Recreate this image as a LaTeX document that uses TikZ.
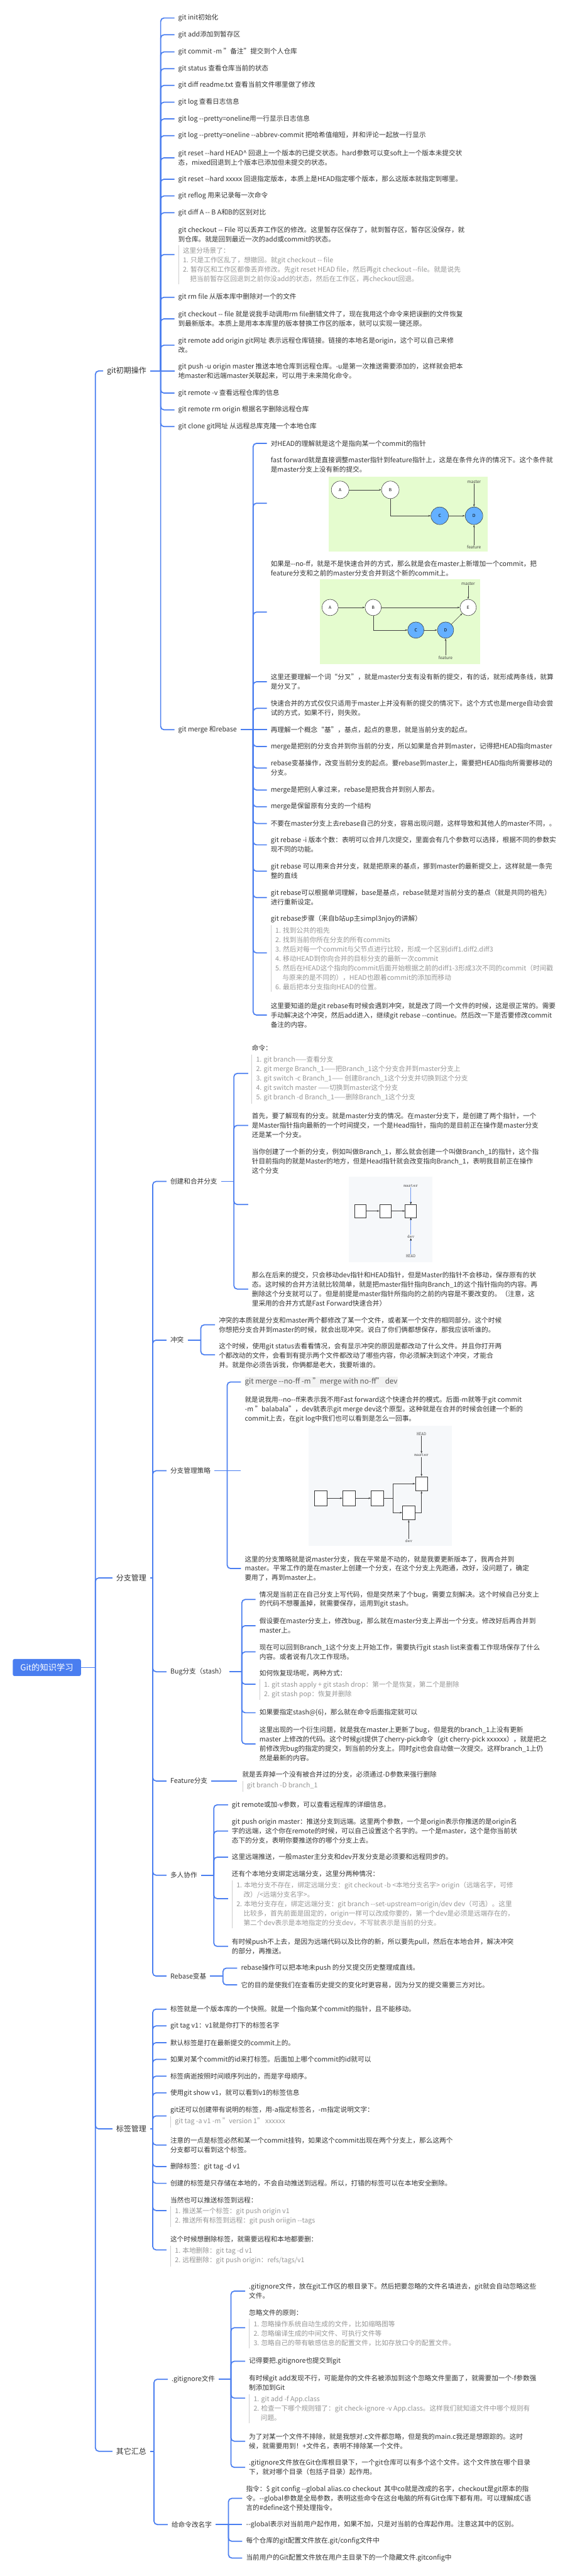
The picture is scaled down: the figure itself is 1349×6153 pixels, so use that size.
\documentclass[tikz,border=0pt]{standalone}
\usepackage{fontspec}
\setmainfont{Noto Sans CJK SC}
\usetikzlibrary{arrows.meta}
\definecolor{lb}{RGB}{74,126,240}
\definecolor{tcol}{RGB}{51,51,51}
\definecolor{ncol}{RGB}{150,150,150}
\definecolor{nbcol}{RGB}{205,205,205}
\definecolor{gbg}{RGB}{229,252,207}
\definecolor{cblue}{RGB}{100,176,255}
\definecolor{ibg}{RGB}{246,248,250}
\tikzset{
 txt/.style={anchor=west, inner sep=0pt, text=tcol, font=\fontsize{16}{22.5}\selectfont, align=left},
 ntxt/.style={txt, text=ncol},
 lone/.style={txt, font=\fontsize{18}{22}\selectfont},
 rootst/.style={fill=lb, text=white, rounded corners=4pt, font=\fontsize{20}{24}\selectfont, inner xsep=18pt, inner ysep=11pt},
 conn/.style={draw=lb, line width=2.6pt, rounded corners=8pt},
 nbarst/.style={draw=nbcol, line width=1.6pt},
 circw/.style={circle, draw=black!80, line width=0.8pt, fill=white, inner sep=0pt, font=\fontsize{10}{12}\selectfont},
 circb/.style={circw, fill=cblue},
 smlab/.style={inner sep=1pt, text=black!75, font=\fontsize{10}{12}\selectfont},
 mlab/.style={inner sep=1pt, text=black!75, font=\ttfamily\fontsize{11}{12}\selectfont},
 arr/.style={-{Stealth[length=6pt,width=4pt]}, draw=black!75, line width=0.8pt},
 barr/.style={-{Stealth[length=6pt,width=4pt,color=black]}, draw=lb!80, line width=0.8pt},
 sq/.style={draw=black!80, fill=white, line width=0.8pt, inner sep=0pt, minimum width=27pt, minimum height=31pt},
}
\newcommand\notebar[1]{\draw[nbarst] ([xshift=-10pt,yshift=4pt]#1.north west) -- ([xshift=-10pt,yshift=-5pt]#1.south west);}
\begin{document}
\begin{tikzpicture}[x=1pt,y=-1pt]
\useasboundingbox (0,0) rectangle (1349,6153);
\fill[white] (0,0) rectangle (1349,6153);

% ---------------- root and level 1
\node[rootst] (R) at (112,3983) {Git的知识学习};
\coordinate (Rj) at (228,3983);
\node[lone, anchor=east] (L1) at (350,886) {git初期操作};
\node[lone, anchor=east] (L2) at (350,3769) {分支管理};
\node[lone, anchor=east] (L3) at (350,5085) {标签管理};
\node[lone, anchor=east] (L4) at (350,5855) {其它汇总};
\draw[conn] (R.east) -- (Rj);
\foreach \n in {L1,L2,L3,L4} {\draw[conn] (Rj) |- ([xshift=-9pt]\n.west);}

% ---------------- group A : git初期操作
\coordinate (Aj) at (384,886);
\draw[conn] ([xshift=9pt]L1.east) -- (Aj);
\node[txt] (a1) at (426,43) {git init初始化};
\node[txt] (a2) at (426,83) {git add添加到暂存区};
\node[txt] (a3) at (426,124) {git commit -m "备注"提交到个人仓库};
\node[txt] (a4) at (426,164) {git status 查看仓库当前的状态};
\node[txt] (a5) at (426,204) {git diff readme.txt 查看当前文件哪里做了修改};
\node[txt] (a6) at (426,244) {git log 查看日志信息};
\node[txt] (a7) at (426,284) {git log -{}-pretty=oneline用一行显示日志信息};
\node[txt] (a8) at (426,324) {git log -{}-pretty=oneline -{}-abbrev-commit 把哈希值缩短，并和评论一起放一行显示};
\node[txt] (a9) at (426,377) {git reset -{}-hard HEAD\textasciicircum{} 回退上一个版本的已提交状态。hard参数可以变soft上一个版本未提交状\\态，mixed回退到上个版本已添加但未提交的状态。};
\node[txt] (a10) at (426,428) {git reset -{}-hard xxxxx 回退指定版本，本质上是HEAD指定哪个版本，那么这版本就指定到哪里。};
\node[txt] (a11) at (426,468) {git reflog 用来记录每一次命令};
\node[txt] (a12) at (426,508) {git diff A -{}- B A和B的区别对比};
\node[txt] (a13) at (426,559.5) {git checkout -{}- File 可以丢弃工作区的修改。这里暂存区保存了，就到暂存区，暂存区没保存，就\\到仓库。就是回到最近一次的add或commit的状态。};
\node[ntxt] (a13n) at (437,632) {这里分场景了：\\1. 只是工作区乱了，想撤回。就git checkout -{}- file\\2. 暂存区和工作区都像丢弃修改。先git reset HEAD file，然后再git checkout -{}-file。就是说先\\\hspace*{17pt}把当前暂存区回退到之前你没add的状态，然后在工作区，再checkout回退。};
\notebar{a13n}
\coordinate (a13c) at (417,608);
\node[txt] (a14) at (426,710) {git rm file 从版本库中删除对一个的文件};
\node[txt] (a15) at (426,761.5) {git checkout -{}- file 就是说我手动调用rm file删错文件了，现在我用这个命令来把误删的文件恢复\\到最新版本。本质上是用本本库里的版本替换工作区的版本，就可以实现一键还原。};
\node[txt] (a16) at (426,824.5) {git remote add origin git网址 表示远程仓库链接。链接的本地名是origin，这个可以自己来修\\改。};
\node[txt] (a17) at (426,886) {git push -u origin master 推送本地仓库到远程仓库。-u是第一次推送需要添加的，这样就会把本\\地master和远端master关联起来，可以用于未来简化命令。};
\node[txt] (a18) at (426,939) {git remote -v 查看远程仓库的信息};
\node[txt] (a19) at (426,979) {git remote rm origin 根据名字删除远程仓库};
\node[txt] (a20) at (426,1019) {git clone git网址 从远程总库克隆一个本地仓库};
\node[txt] (a21) at (426,1743) {git merge 和rebase};
\foreach \n in {a1,a2,a3,a4,a5,a6,a7,a8,a9,a10,a11,a12,a14,a15,a16,a18,a19,a20,a21} {\draw[conn] (Aj) |- ([xshift=-9pt]\n.west);}
\draw[conn] (Aj) |- (a13c);
\draw[conn] (Aj) -- ([xshift=-9pt]a17.west);

% ---------------- group B : merge & rebase
\coordinate (Bj) at (605,1743);
\draw[conn] ([xshift=9pt]a21.east) -- (Bj);
\node[txt] (b1) at (647,1059) {对HEAD的理解就是这个是指向某一个commit的指针};
\node[txt] (b2) at (647,1110.5) {fast forward就是直接调整master指针到feature指针上，这是在条件允许的情况下。这个条件就\\是master分支上没有新的提交。};
\coordinate (b2c) at (638,1202);
\node[txt] (b3) at (647,1358) {如果是-{}-no-ff，就是不是快速合并的方式，那么就是会在master上新增加一个commit，把\\feature分支和之前的master分支合并到这个新的commit上。};
\coordinate (b3c) at (638,1462);
\node[txt] (b4) at (647,1628.5) {这里还要理解一个词“分叉”，就是master分支有没有新的提交，有的话，就形成两条线，就算\\是分叉了。};
\node[txt] (b5) at (647,1692) {快速合并的方式仅仅只适用于master上并没有新的提交的情况下。这个方式也是merge自动会尝\\试的方式，如果不行，则失败。};
\node[txt] (b6) at (647,1743) {再理解一个概念“基”，基点，起点的意思，就是当前分支的起点。};
\node[txt] (b7) at (647,1783) {merge是把别的分支合并到你当前的分支，所以如果是合并到master，记得把HEAD指向master};
\node[txt] (b8) at (647,1834.5) {rebase变基操作，改变当前分支的起点。要rebase到master上，需要把HEAD指向所需要移动的\\分支。};
\node[txt] (b9) at (647,1887) {merge是把别人拿过来，rebase是把我合并到别人那去。};
\node[txt] (b10) at (647,1927) {merge是保留原有分支的一个结构};
\node[txt] (b11) at (647,1967) {不要在master分支上去rebase自己的分支，容易出现问题，这样导致和其他人的master不同，。};
\node[txt] (b12) at (647,2018) {git rebase -i 版本个数：表明可以合并几次提交，里面会有几个参数可以选择，根据不同的参数实\\现不同的功能。};
\node[txt] (b13) at (647,2081) {git rebase 可以用来合并分支，就是把原来的基点，挪到master的最新提交上，这样就是一条完\\整的直线};
\node[txt] (b14) at (647,2144) {git rebase可以根据单词理解，base是基点，rebase就是对当前分支的基点（就是共同的祖先）\\进行重新设定。};
\node[txt] (b15) at (647,2195) {git rebase步骤（来自b站up主simpl3njoy的讲解）};
\node[ntxt] (b15n) at (658,2289.5) {1. 找到公共的祖先\\2. 找到当前你所在分支的所有commits\\3. 然后对每一个commit与父节点进行比较，形成一个区别diff1.diff2.diff3\\4. 移动HEAD到你向合并的目标分支的最新一次commit\\5. 然后在HEAD这个指向的commit后面开始根据之前的diff1-3形成3次不同的commit（时间戳\\\hspace*{17pt}与原来的是不同的），HEAD也跟着commit的添加而移动\\6. 最后把本分支指向HEAD的位置。};
\notebar{b15n}
\coordinate (b15c) at (638,2276);
\node[txt] (b16) at (647,2424.5) {这里要知道的是git rebase有时候会遇到冲突，就是改了同一个文件的时候，这是很正常的。需要\\手动解决这个冲突，然后add进入，继续git rebase -{}-continue。然后改一下是否要修改commit\\备注的内容。};
\foreach \n in {b1,b4,b5,b7,b8,b9,b10,b11,b12,b13,b14,b16} {\draw[conn] (Bj) |- ([xshift=-9pt]\n.west);}
\foreach \n in {b2c,b3c,b15c} {\draw[conn] (Bj) |- (\n);}
\draw[conn] (Bj) -- ([xshift=-9pt]b6.west);

% image 1 (fast forward)
\fill[gbg] (786,1138) rectangle (1166,1317);
\node[circw, minimum size=42pt] (i1A) at (813,1170) {A};
\node[circw, minimum size=42pt] (i1B) at (933,1170) {B};
\node[circb, minimum size=42pt] (i1C) at (1051,1232) {C};
\node[circb, minimum size=42pt] (i1D) at (1133,1232) {D};
\node[smlab] (i1m) at (1133,1151) {master};
\node[smlab] (i1f) at (1133,1307) {feature};
\draw[arr] (i1A) -- (i1B);
\draw[arr] (i1B) |- (i1C);
\draw[arr] (i1C) -- (i1D);
\draw[arr] (i1m) -- (i1D);
\draw[arr] (i1f) -- (i1D);
% image 2 (no-ff)
\fill[gbg] (765,1384) rectangle (1147,1587);
\node[circw, minimum size=39pt] (i2A) at (789,1451) {A};
\node[circw, minimum size=39pt] (i2B) at (892,1451) {B};
\node[circw, minimum size=39pt] (i2E) at (1119,1451) {E};
\node[circb, minimum size=39pt] (i2C) at (994,1505) {C};
\node[circb, minimum size=39pt] (i2D) at (1065,1505) {D};
\node[smlab] (i2m) at (1119,1394) {master};
\node[smlab] (i2f) at (1065,1571) {feature};
\draw[arr] (i2A) -- (i2B);
\draw[arr] (i2B) -- (i2E);
\draw[arr] (i2B) |- (i2C);
\draw[arr] (i2C) -- (i2D);
\draw[arr] (i2D) -- (i2E);
\draw[arr] (i2m) -- (i2E);
\draw[arr] (i2f) -- (i2D);

% ---------------- group C : 分支管理
\coordinate (Cj) at (365,3769);
\draw[conn] ([xshift=9pt]L2.east) -- (Cj);
\node[txt] (C1) at (407,2822) {创建和合并分支};
\node[txt] (C2) at (407,3201) {冲突};
\node[txt] (C3) at (407,3513) {分支管理策略};
\node[txt] (C4) at (407,3993) {Bug分支（stash）};
\node[txt] (C5) at (407,4254) {Feature分支};
\node[txt] (C6) at (407,4479) {多人协作};
\node[txt] (C7) at (407,4720) {Rebase变基};
\foreach \n in {C1,C2,C3,C4,C5,C6,C7} {\draw[conn] (Cj) |- ([xshift=-9pt]\n.west);}

% C1 创建和合并分支
\coordinate (C1j) at (559,2822);
\draw[conn] ([xshift=9pt]C1.east) -- (C1j);
\node[txt] (c1) at (602,2504) {命令：};
\node[ntxt] (c1n) at (612,2577) {1. git branch——查看分支\\2. git merge Branch\_1——把Branch\_1这个分支合并到master分支上\\3. git switch -c Branch\_1—— 创建Branch\_1这个分支并切换到这个分支\\4. git switch master ——切换到master这个分支\\5. git branch -d Branch\_1——删除Branch\_1这个分支};
\notebar{c1n}
\coordinate (c1c) at (593,2564);
\node[txt] (c2) at (602,2688) {首先，要了解现有的分支。就是master分支的情况。在master分支下，是创建了两个指针，一个\\是Master指针指向最新的一个时间提交，一个是Head指针，指向的是目前正在操作是master分支\\还是某一个分支。};
\node[txt] (c3) at (602,2773.5) {当你创建了一个新的分支，例如叫做Branch\_1，那么就会创建一个叫做Branch\_1的指针，这个指\\针目前指向的就是Master的地方，但是Head指针就会改变指向Branch\_1，表明我目前正在操作\\这个分支};
\coordinate (c3c) at (593,2877);
\node[txt] (c4) at (602,3079) {那么在后来的提交，只会移动dev指针和HEAD指针，但是Master的指针不会移动，保存原有的状\\态。这时候的合并方法就比较简单，就是把master指针指向Branch\_1的这个指针指向的内容。再\\删除这个分支就可以了。但是前提是master指针所指向的之前的内容是不要改变的。（注意，这\\里采用的合并方式是Fast Forward快速合并）};
\draw[conn] (C1j) |- (c1c);
\draw[conn] (C1j) |- ([xshift=-9pt]c2.west);
\draw[conn] (C1j) |- (c3c);
\draw[conn] (C1j) |- ([xshift=-9pt]c4.west);
% image 3
\fill[ibg] (833,2811) rectangle (1034,3015);
\node[sq] (s1) at (861,2892.5) {};
\node[sq] (s2) at (921,2892.5) {};
\node[sq] (s3) at (982,2892.5) {};
\node[mlab] (s3m) at (982,2832) {master};
\node[mlab] (s3d) at (982,2953) {dev};
\node[mlab] (s3h) at (982,3000) {HEAD};
\draw[arr] (s1) -- (s2);
\draw[arr] (s2) -- (s3);
\draw[barr] (s3m) -- (s3);
\draw[barr] (s3d) -- (s3);
\draw[barr] (s3h) -- (s3d);

% C2 冲突
\coordinate (C2j) at (480,3201);
\draw[conn] ([xshift=9pt]C2.east) -- (C2j);
\node[txt] (d1) at (523,3164.5) {冲突的本质就是分支和master两个都修改了某一个文件，或者某一个文件的相同部分。这个时候\\你想把分支合并到master的时候，就会出现冲突。说白了你们俩都想保存，那我应该听谁的。};
\node[txt] (d2) at (523,3238.5) {这个时候，使用git status去看看情况，会有显示冲突的原因是都改动了什么文件。并且你打开两\\个都改动的文件，会看到有提示两个文件都改动了哪些内容，你必须解决到这个冲突，才能合\\并。就是你必须告诉我，你俩都是老大，我要听谁的。};
\coordinate (d2c) at (514,3236);
\draw[conn] (C2j) |- ([xshift=-9pt]d1.west);
\draw[conn] (C2j) |- (d2c);

% C3 分支管理策略
\coordinate (C3j) at (543,3513);
\draw[conn] ([xshift=9pt]C3.east) -- (C3j);
\node[txt, fill=black!5, text=black!65, font=\fontsize{17.5}{20}\selectfont, inner ysep=3pt, inner xsep=0pt] (e1) at (585,3301) {git merge -{}-no-ff -m "merge with no-ff" dev};
\node[txt] (e2) at (585,3367.5) {就是说我用-{}-no-{}-ff来表示我不用Fast forward这个快速合并的模式。后面-m就等于git commit\\-m "balabala"，dev就表示git merge dev这个原型。这种就是在合并的时候会创建一个新的\\commit上去，在git log中我们也可以看到是怎么一回事。};
\coordinate (e2c) at (576,3513);
\node[txt] (e3) at (585,3746.5) {这里的分支策略就是说master分支，我在平常是不动的，就是我要更新版本了，我再合并到\\master。平常工作的是在master上创建一个分支，在这个分支上先跑通，改好，没问题了，确定\\要用了，再到master上。};
\draw[conn] (C3j) |- ([xshift=-9pt]e1.west);
\draw[conn] (C3j) -- (e2c);
\draw[conn] (C3j) |- ([xshift=-9pt]e3.west);
% image 4
\fill[ibg] (737,3405) rectangle (1080,3693);
\node[sq, minimum width=30pt, minimum height=35pt] (r1) at (766,3578.5) {};
\node[sq, minimum width=30pt, minimum height=35pt] (r2) at (834,3578.5) {};
\node[sq, minimum width=30pt, minimum height=35pt] (r3) at (902,3578.5) {};
\node[sq, minimum width=29pt, minimum height=34pt] (rt) at (1007.5,3544) {};
\node[sq, minimum width=30pt, minimum height=34pt] (rl) at (977,3613) {};
\node[mlab] (r4h) at (1007.5,3425) {HEAD};
\node[mlab] (r4m) at (1007.5,3476) {master};
\node[mlab] (r4d) at (977,3681) {dev};
\coordinate (r3k) at (939,3578.5);
\draw[arr] (r1) -- (r2);
\draw[arr] (r2) -- (r3);
\draw[draw=black!75, line width=0.8pt] (r3.east) -- (r3k);
\draw[arr] (r3k) |- (rt.west);
\draw[arr] (r3k) |- (rl.west);
\draw[arr] (rl.east) -| (rt.south);
\draw[arr] (r4h) -- (r4m);
\draw[arr] (r4m) -- (rt);
\draw[arr] (r4d) -- (rl);

% C4 Bug分支
\coordinate (C4j) at (578,3993);
\draw[conn] ([xshift=9pt]C4.east) -- (C4j);
\node[txt] (f1) at (620,3820.5) {情况是当前正在自己分支上写代码，但是突然来了个bug，需要立刻解决。这个时候自己分支上\\的代码不想覆盖掉，就需要保存，运用到git stash。};
\node[txt] (f2) at (620,3883) {假设要在master分支上，修改bug，那么就在master分支上弄出一个分支。修改好后再合并到\\master上。};
\node[txt] (f3) at (620,3945.5) {现在可以回到Branch\_1这个分支上开始工作，需要执行git stash list来查看工作现场保存了什么\\内容。或者说有几次工作现场。};
\node[txt] (f4) at (620,3997) {如何恢复现场呢，两种方式：};
\node[ntxt] (f4n) at (631,4035.5) {1. git stash apply + git stash drop：第一个是恢复，第二个是删除\\2. git stash pop：恢复并删除};
\notebar{f4n}
\coordinate (f4c) at (611,4023);
\node[txt] (f5) at (620,4091) {如果要指定stash@\{6\}，那么就在命令后面指定就可以};
\node[txt] (f6) at (620,4165.5) {这里出现的一个衍生问题，就是我在master上更新了bug，但是我的branch\_1上没有更新\\master 上修改的代码。这个时候git提供了cherry-pick命令（git cherry-pick xxxxxx），就是把之\\前修改完bug的指定的提交，到当前的分支上。同时git也会自动做一次提交。这样branch\_1上仍\\然是最新的内容。};
\foreach \n in {f1,f2,f3,f5,f6} {\draw[conn] (C4j) |- ([xshift=-9pt]\n.west);}
\draw[conn] (C4j) |- (f4c);

% C5 Feature分支
\node[txt] (g1) at (579,4239) {就是丢弃掉一个没有被合并过的分支，必须通过-D参数来强行删除};
\node[ntxt] (g1n) at (590,4266) {git branch -D branch\_1};
\notebar{g1n}
\draw[conn] ([xshift=9pt]C5.east) -- (566,4254);

% C6 多人协作
\coordinate (C6j) at (511,4479);
\draw[conn] ([xshift=9pt]C6.east) -- (C6j);
\node[txt] (h1) at (554,4311) {git remote或加-v参数，可以查看远程库的详细信息。};
\node[txt] (h2) at (554,4373.5) {git push origin master：推送分支到远端。这里两个参数，一个是origin表示你推送的是origin名\\字的远端，这个你在remote的时候，可以自己设置这个名字的。一个是master，这个是你当前状\\态下的分支，表明你要推送你的哪个分支上去。};
\node[txt] (h3) at (554,4436) {这里远端推送，一般master主分支和dev开发分支是必须要和远程同步的。};
\node[txt] (h4) at (554,4476) {还有个本地分支绑定远端分支，这里分两种情况：};
\node[ntxt] (h4n) at (565,4548) {1. 本地分支不存在，绑定远端分支：git checkout -b <本地分支名字> origin（远端名字，可修\\\hspace*{17pt}改）/<远端分支名字>。\\2. 本地分支存在，绑定远端分支：git branch -{}-set-upstream=origin/dev dev（可选）。这里\\\hspace*{17pt}比较多，首先前面是固定的，origin一样可以改成你要的，第一个dev是必须是远端存在的，\\\hspace*{17pt}第二个dev表示是本地指定的分支dev，不写就表示是当前的分支。};
\notebar{h4n}
\coordinate (h4c) at (545,4535);
\node[txt] (h5) at (554,4649) {有时候push不上去，是因为远端代码以及比你的新，所以要先pull，然后在本地合并，解决冲突\\的部分，再推送。};
\foreach \n in {h1,h2,h3,h5} {\draw[conn] (C6j) |- ([xshift=-9pt]\n.west);}
\draw[conn] (C6j) |- (h4c);

% C7 Rebase变基
\coordinate (C7j) at (533,4720);
\draw[conn] ([xshift=9pt]C7.east) -- (C7j);
\node[txt] (i1) at (576,4701) {rebase操作可以把本地未push 的分叉提交历史整理成直线。};
\node[txt] (i2) at (576,4741) {它的目的是使我们在查看历史提交的变化时更容易，因为分叉的提交需要三方对比。};
\draw[conn] (C7j) |- ([xshift=-9pt]i1.west);
\draw[conn] (C7j) |- ([xshift=-9pt]i2.west);

% ---------------- group D : 标签
\coordinate (Dj) at (365,5085);
\draw[conn] ([xshift=9pt]L3.east) -- (Dj);
\node[txt] (j1) at (407,4799) {标签就是一个版本库的一个快照。就是一个指向某个commit的指针，且不能移动。};
\node[txt] (j2) at (407,4839) {git tag v1：v1就是你打下的标签名字};
\node[txt] (j3) at (407,4879) {默认标签是打在最新提交的commit上的。};
\node[txt] (j4) at (407,4919) {如果对某个commit的id来打标签。后面加上哪个commit的id就可以};
\node[txt] (j5) at (407,4959) {标签病逝按照时间顺序列出的，而是字母顺序。};
\node[txt] (j6) at (407,4999) {使用git show v1，就可以看到v1的标签信息};
\node[txt] (j7) at (407,5040) {git还可以创建带有说明的标签，用-a指定标签名，-m指定说明文字：};
\node[ntxt] (j7n) at (418,5068) {git tag -a v1 -m "version 1" xxxxxx};
\notebar{j7n}
\coordinate (j7c) at (398,5054);
\node[txt] (j8) at (407,5123.5) {注意的一点是标签必然和某一个commit挂钩，如果这个commit出现在两个分支上，那么这两个\\分支都可以看到这个标签。};
\node[txt] (j9) at (407,5175) {删除标签：git tag -d v1};
\node[txt] (j10) at (407,5215) {创建的标签是只存储在本地的，不会自动推送到远程。所以，打错的标签可以在本地安全删除。};
\node[txt] (j11) at (407,5255) {当然也可以推送标签到远程：};
\node[ntxt] (j11n) at (418,5293.5) {1. 推送某一个标签：git push origin v1\\2. 推送所有标签到远程：git push oriigin -{}-tags};
\notebar{j11n}
\coordinate (j11c) at (398,5280);
\node[txt] (j12) at (407,5349) {这个时候想删除标签，就需要远程和本地都要删：};
\node[ntxt] (j12n) at (418,5388) {1. 本地删除：git tag -d v1\\2. 远程删除：git push origin：refs/tags/v1};
\notebar{j12n}
\coordinate (j12c) at (398,5374);
\foreach \n in {j1,j2,j3,j4,j5,j6,j8,j9,j10} {\draw[conn] (Dj) |- ([xshift=-9pt]\n.west);}
\foreach \n in {j7c,j11c,j12c} {\draw[conn] (Dj) |- (\n);}

% ---------------- group E : 其它
\coordinate (Ej) at (368,5855);
\draw[conn] ([xshift=9pt]L4.east) -- (Ej);
\node[txt] (E1) at (410,5683) {.gitignore文件};
\node[txt] (E2) at (410,6030) {给命令改名字};
\draw[conn] (Ej) |- ([xshift=-9pt]E1.west);
\draw[conn] (Ej) |- ([xshift=-9pt]E2.west);

\coordinate (E1j) at (552,5683);
\draw[conn] ([xshift=9pt]E1.east) -- (E1j);
\node[txt] (k1) at (595,5472.5) {.gitignore文件，放在git工作区的根目录下。然后把要忽略的文件名填进去，git就会自动忽略这些\\文件。};
\node[txt] (k2) at (595,5524) {忽略文件的原则：};
\node[ntxt] (k2n) at (606,5573.5) {1. 忽略操作系统自动生成的文件，比如缩略图等\\2. 忽略编译生成的中间文件、可执行文件等\\3. 忽略自己的带有敏感信息的配置文件，比如存放口令的配置文件。};
\notebar{k2n}
\coordinate (k2c) at (586,5560);
\node[txt] (k3) at (595,5640) {记得要把.gitignore也提交到git};
\node[txt] (k4) at (595,5691.5) {有时候git add发现不行，可能是你的文件名被添加到这个忽略文件里面了，就需要加一个-f参数强\\制添加到Git};
\node[ntxt] (k4n) at (606,5752.5) {1. git add -f App.class\\2. 检查一下哪个规则错了：git check-ignore -v App.class。这样我们就知道文件中哪个规则有\\\hspace*{17pt}问题。};
\notebar{k4n}
\coordinate (k4c) at (586,5728);
\node[txt] (k5) at (595,5831) {为了对某一个文件不排除，就是我想对.c文件都忽略，但是我的main.c我还是想跟踪的。这时\\候，就需要用到！+文件名，表明不排除某一个文件。};
\node[txt] (k6) at (595,5893.5) {.gitignore文件放在Git仓库根目录下，一个git仓库可以有多个这个文件。这个文件放在哪个目录\\下，就对哪个目录（包括子目录）起作用。};
\foreach \n in {k1,k3,k5,k6} {\draw[conn] (E1j) |- ([xshift=-9pt]\n.west);}
\foreach \n in {k2c,k4c} {\draw[conn] (E1j) |- (\n);}

\coordinate (E2j) at (546,6030);
\draw[conn] ([xshift=9pt]E2.east) -- (E2j);
\node[txt] (l1) at (588,5967.5) {指令：\$ git config -{}-global alias.co checkout\ \ 其中co就是改成的名字，checkout是git原本的指\\令。-{}-global参数是全局参数，表明这些命令在这台电脑的所有Git仓库下都有用。可以理解成C语\\言的\#define这个预处理指令。};
\node[txt] (l2) at (588,6030) {-{}-global表示对当前用户起作用，如果不加，只是对当前的仓库起作用。注意这其中的区别。};
\node[txt] (l3) at (588,6070) {每个仓库的git配置文件放在.git/config文件中};
\node[txt] (l4) at (588,6110) {当前用户的Git配置文件放在用户主目录下的一个隐藏文件.gitconfig中};
\draw[conn] (E2j) |- ([xshift=-9pt]l1.west);
\draw[conn] (E2j) -- ([xshift=-9pt]l2.west);
\draw[conn] (E2j) |- ([xshift=-9pt]l3.west);
\draw[conn] (E2j) |- ([xshift=-9pt]l4.west);
\end{tikzpicture}
\end{document}
